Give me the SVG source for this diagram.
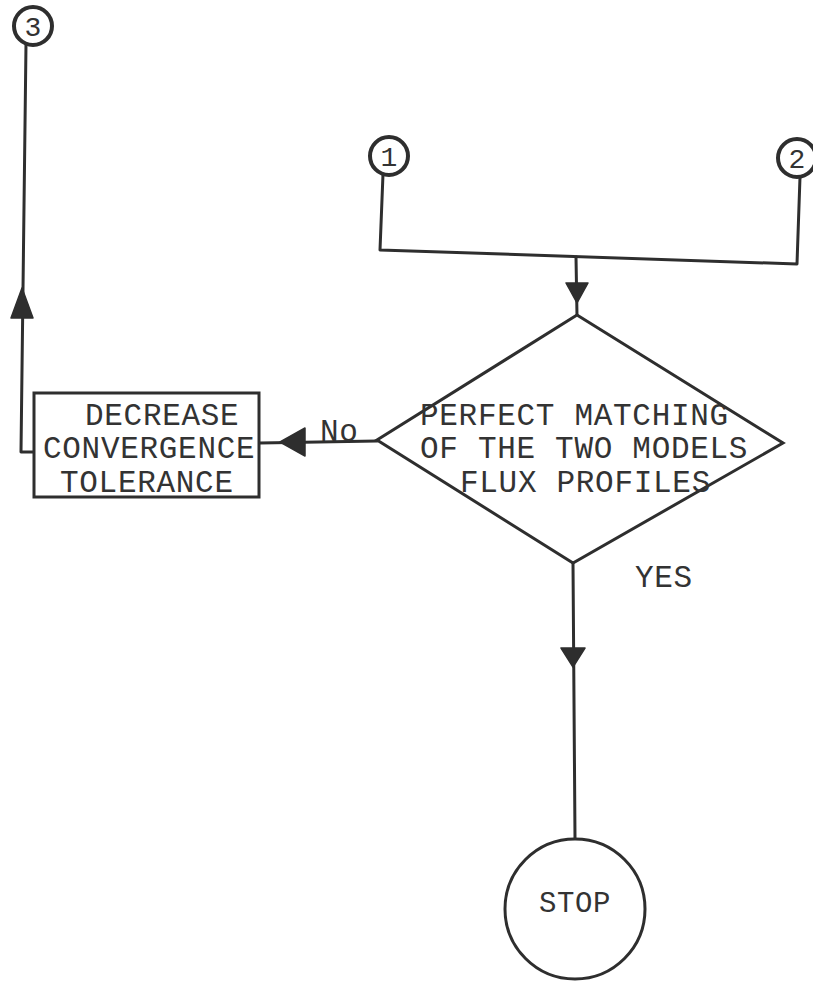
<svg xmlns="http://www.w3.org/2000/svg" width="813" height="987" viewBox="0 0 813 987">
<style>
.ln{fill:none;stroke:#2e2e2e;stroke-width:3;stroke-linecap:round;stroke-linejoin:round}
.sh{fill:#fff;stroke:#2e2e2e;stroke-width:3}
.cs{fill:#fff;stroke:#2e2e2e;stroke-width:4}
.ah{fill:#2e2e2e;stroke:#2e2e2e;stroke-width:1.5;stroke-linejoin:round}
.t{font-family:"Liberation Mono","Courier New",monospace;font-size:31px;letter-spacing:0.7px;fill:#333}
.c{font-family:"Liberation Mono","Courier New",monospace;font-size:28px;fill:#333}
</style>
<rect width="813" height="987" fill="#fff"/>
<g id="connectors">
<path class="ln" d="M26,44 L21,452 L34,452"/>
<polygon class="ah" points="22,288 11,318 33,318"/>
<path class="ln" d="M383,174 L380,250 L797,264 L800,177"/>
<path class="ln" d="M576,257 L577,316"/>
<polygon class="ah" points="577,303 566,283 588,283"/>
<path class="ln" d="M377,441 L260,443"/>
<polygon class="ah" points="280,442 305,428 305,456"/>
<path class="ln" d="M573,563 L575,838"/>
<polygon class="ah" points="573,667 561,648 585,648"/>
<text class="t" x="320" y="441">No</text>
<text class="t" x="635" y="587">YES</text>
</g>
<g id="c3">
<circle class="cs" cx="33" cy="26" r="19"/>
<text class="c" x="33" y="36" text-anchor="middle">3</text>
</g>
<g id="c1">
<circle class="cs" cx="389" cy="156" r="19"/>
<text class="c" x="389" y="166" text-anchor="middle">1</text>
</g>
<g id="c2">
<circle class="cs" cx="797" cy="158" r="19"/>
<text class="c" x="797" y="168" text-anchor="middle">2</text>
</g>
<g id="decision">
<polygon class="sh" points="577,315 783,443 573,563 377,440"/>
<text class="t" x="420" y="425">PERFECT MATCHING</text>
<text class="t" x="420" y="458">OF THE TWO MODELS</text>
<text class="t" x="460" y="492">FLUX PROFILES</text>
</g>
<g id="decrease">
<rect class="sh" x="34" y="393" width="225" height="104"/>
<text class="t" x="85" y="425">DECREASE</text>
<text class="t" x="43" y="458">CONVERGENCE</text>
<text class="t" x="60" y="492">TOLERANCE</text>
</g>
<g id="stop">
<circle class="sh" cx="575" cy="909" r="70"/>
<text class="t" x="575" y="912" text-anchor="middle" style="font-size:29px;letter-spacing:0.6px">STOP</text>
</g>
</svg>
